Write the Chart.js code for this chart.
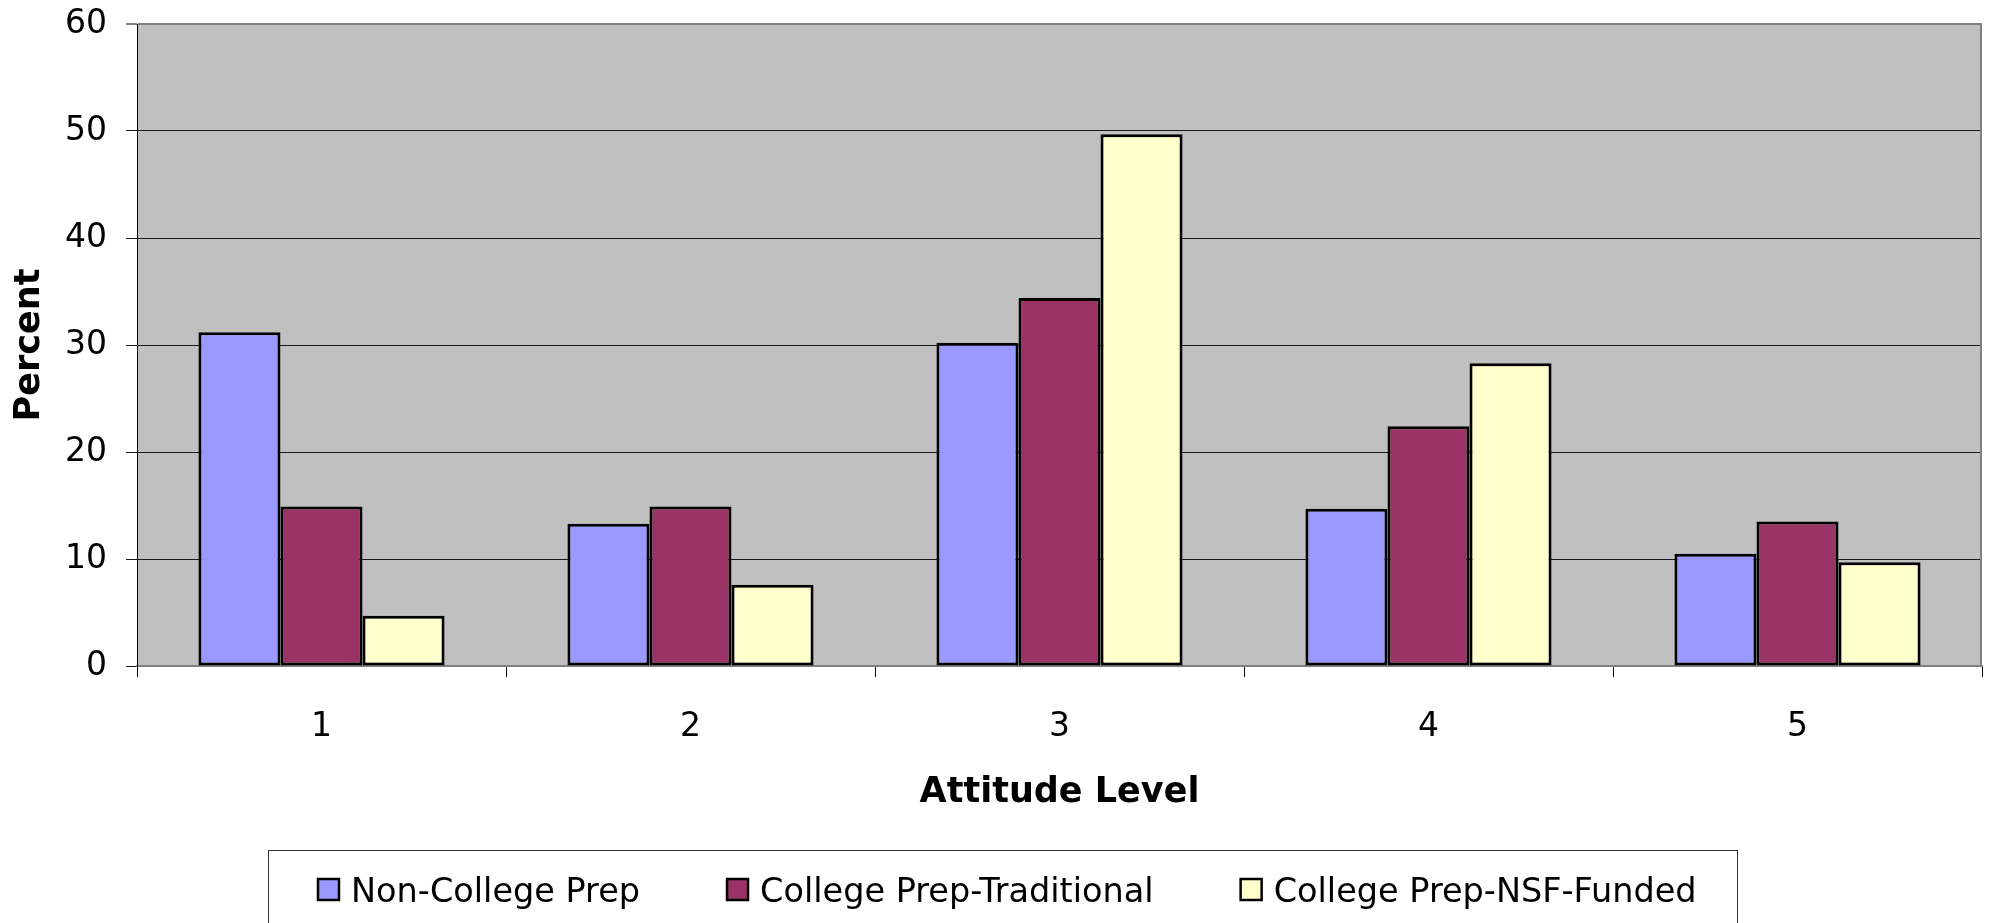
<!DOCTYPE html>
<html>
<head>
<meta charset="utf-8">
<title>Attitude Level</title>
<script src="https://cdn.jsdelivr.net/npm/chart.js@4/dist/chart.umd.min.js"></script>
<style>
  html, body { margin: 0; padding: 0; background: #ffffff; }
  #wrap { width: 2003px; height: 923px; position: relative; }
</style>
</head>
<body>
<div id="wrap"><canvas id="chart" width="2003" height="923"></canvas></div>
<script>
// Attitude levels on the x axis
const categories = ['1', '2', '3', '4', '5'];

// Percent of students at each attitude level, per group
const nonCollegePrep = [31.2, 13.3, 30.2, 14.7, 10.5];
const collegePrepTraditional = [14.9, 14.9, 34.4, 22.4, 13.5];
const collegePrepNSF = [4.7, 7.6, 49.7, 28.3, 9.7];

const seriesNames = ['Non-College Prep', 'College Prep-Traditional', 'College Prep-NSF-Funded'];
const seriesColors = ['#9999FF', '#993366', '#FFFFCC'];

// Value axis ticks
const yMin = 0;
const yMax = 60;
const yStep = 10;

const FONT = "'DejaVu Sans', Verdana, sans-serif";

// Grey plot area, frame on the right, and the boxed legend below the chart
const frameAndLegend = {
  id: 'frameAndLegend',
  beforeDraw(chart) {
    const { ctx, chartArea: a } = chart;
    ctx.save();
    ctx.fillStyle = '#ffffff';
    ctx.fillRect(0, 0, chart.width, chart.height);
    ctx.fillStyle = '#C0C0C0';
    ctx.fillRect(a.left, a.top, a.right - a.left, a.bottom - a.top);
    ctx.restore();
  },
  afterDraw(chart) {
    const { ctx, chartArea: a } = chart;
    ctx.save();
    // right edge of the plot area
    ctx.strokeStyle = '#808080';
    ctx.lineWidth = 2;
    ctx.beginPath();
    ctx.moveTo(a.right - 1, a.top);
    ctx.lineTo(a.right - 1, a.bottom);
    ctx.stroke();

    // legend box (runs past the bottom edge of the canvas)
    ctx.strokeStyle = '#333333';
    ctx.lineWidth = 1;
    ctx.strokeRect(268.5, 850.5, 1737 - 268, 100);

    ctx.font = '33.5px ' + FONT;
    ctx.textBaseline = 'alphabetic';
    ctx.textAlign = 'left';
    let x = 318;
    const markerTop = 879;
    const markerSize = 21;
    const baseline = 902;
    chart.data.datasets.forEach((ds) => {
      ctx.fillStyle = ds.backgroundColor;
      ctx.fillRect(x, markerTop, markerSize, markerSize);
      ctx.strokeStyle = '#000000';
      ctx.lineWidth = 2.5;
      ctx.strokeRect(x, markerTop, markerSize, markerSize);
      const tx = x + markerSize + 12;
      ctx.fillStyle = '#000000';
      ctx.fillText(ds.label, tx, baseline);
      x = tx + ctx.measureText(ds.label).width + 87;
    });
    ctx.restore();
  }
};

const datasets = [nonCollegePrep, collegePrepTraditional, collegePrepNSF].map((values, i) => ({
  label: seriesNames[i],
  data: values,
  backgroundColor: seriesColors[i],
  borderColor: '#000000',
  borderWidth: 3,
  borderSkipped: false,
  categoryPercentage: 0.667,
  barPercentage: 1.0
}));

new Chart(document.getElementById('chart'), {
  type: 'bar',
  data: { labels: categories, datasets },
  options: {
    responsive: false,
    animation: false,
    events: [],
    layout: { padding: { left: 0, top: 24, right: 21, bottom: 0 } },
    plugins: {
      legend: { display: false },
      tooltip: { enabled: false }
    },
    scales: {
      x: {
        grid: {
          display: true,
          drawOnChartArea: false,
          drawTicks: true,
          tickLength: 11,
          color: '#000000',
          lineWidth: 1
        },
        border: { display: true, color: '#808080', width: 2 },
        ticks: {
          color: '#000000',
          font: { family: FONT, size: 33 },
          padding: 31,
          maxRotation: 0
        },
        title: {
          display: true,
          text: 'Attitude Level',
          color: '#000000',
          font: { family: FONT, size: 35, weight: 'bold' },
          padding: { top: 0, bottom: 109 }
        },
        afterFit(scale) {
          scale.height = 257;
          scale.paddingLeft = 0;
          scale.paddingRight = 0;
        }
      },
      y: {
        min: yMin,
        max: yMax,
        ticks: {
          stepSize: yStep,
          color: '#000000',
          font: { family: FONT, size: 33 },
          padding: 19
        },
        grid: {
          drawOnChartArea: true,
          drawTicks: true,
          tickLength: 11,
          color: (c) => (c.tick && c.tick.value === yMax ? '#808080' : '#1a1a1a'),
          lineWidth: (c) => (c.tick && c.tick.value === yMax ? 2 : 1)
        },
        border: { display: true, color: '#000000', width: 1 },
        title: {
          display: true,
          text: 'Percent',
          color: '#000000',
          font: { family: FONT, size: 35, weight: 'bold' },
          padding: { top: 9, bottom: 0 }
        },
        afterFit(scale) {
          scale.width = 137;
          scale.paddingTop = 0;
          scale.paddingBottom = 0;
        }
      }
    }
  },
  plugins: [frameAndLegend]
});
</script>
</body>
</html>
